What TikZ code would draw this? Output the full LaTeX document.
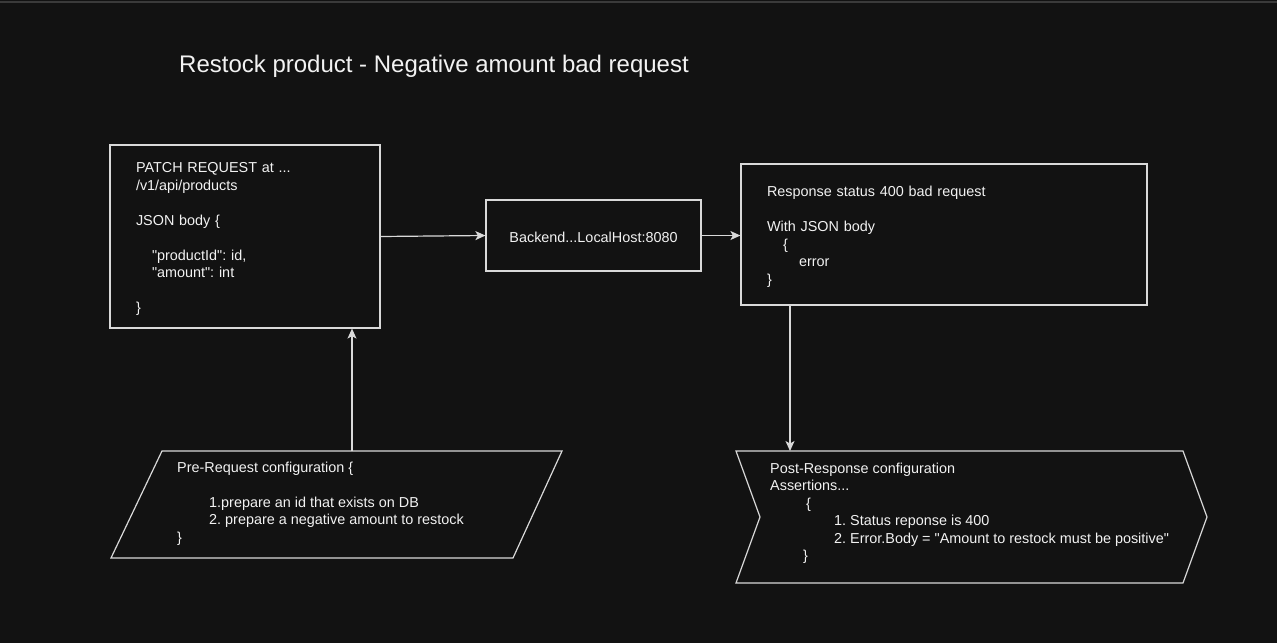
\documentclass[tikz,border=0pt]{standalone}
\usepackage{fontspec}
\setmainfont{Liberation Sans}[Ligatures=TeXOff]
\usetikzlibrary{positioning, arrows.meta}

\definecolor{canvas}{HTML}{121212}
\definecolor{edgegray}{HTML}{D9D9D9}
\definecolor{rulegray}{HTML}{3A3A3A}
\definecolor{inkwhite}{HTML}{F2F2F2}
\newcommand{\linestrut}{\rule[-2.25pt]{0pt}{17.5pt}}

\begin{document}
\frenchspacing
\begin{tikzpicture}[
    x=1pt, y=-1pt,
    every node/.style={text=inkwhite, font=\fontsize{14.4}{17.5}\selectfont,
        execute at begin node=\linestrut, execute at end node=\linestrut},
    box/.style={draw=edgegray, line width=1.2pt, fill=canvas, align=left, inner xsep=26pt, inner ysep=0pt},
    outline/.style={draw=edgegray, line width=1.2pt, fill=canvas, line join=miter},
    arrow/.style={draw=edgegray, line width=1.2pt, -{Stealth[length=10pt,width=9pt,inset=2.5pt]}},
    plain/.style={align=left, inner sep=0pt, anchor=west}
]

\fill[canvas] (0,0) rectangle (1277,643);
\useasboundingbox (0,0) rectangle (1277,643);
\draw[rulegray, line width=1.5pt] (0,2) -- (1277,2);

\node[font=\fontsize{24}{28}\selectfont, inner sep=0pt, anchor=base west] (title) at (179,72.7)
    {Restock product - Negative amount bad request};

\node[box, text width=218pt, minimum height=183pt] (patch) at (245,236.5)
    {PATCH REQUEST at ...\\/v1/api/products\\[17.5pt]JSON body \{\\[17.5pt]\hspace*{16pt}"productId": id,\\\hspace*{16pt}"amount": int\\[17.5pt]\}};

\node[box, align=center, inner xsep=0pt, minimum width=215pt, minimum height=71pt] (backend) at (593.5,235.5)
    {Backend...LocalHost:8080};

\node[box, text width=354pt, minimum height=141pt] (response) at (944,234.5)
    {Response status 400 bad request\\[17.5pt]With JSON body\\\hspace*{16pt}\{\\\hspace*{32pt}error\\\}};

\draw[outline] (111,558) -- (162,451) -- (562,451) -- (513,558) -- cycle;
\coordinate (pre top) at (352,451);
\node[plain] (pre) at (177,503.5)
    {Pre-Request configuration \{\\[17.5pt]\hspace*{32pt}1.prepare an id that exists on DB\\\hspace*{32pt}2. prepare a negative amount to restock\\\}};

\draw[outline] (736,451) -- (1183,451) -- (1207,517) -- (1183,583) -- (736,583) -- (760,517) -- cycle;
\coordinate (post top) at (790,451);
\node[plain] (post) at (770,513.5)
    {Post-Response configuration\\Assertions...\\\hspace*{36pt}\{\\\hspace*{64pt}1. Status reponse is 400\\\hspace*{64pt}2. Error.Body = "Amount to restock must be positive"\\\hspace*{33pt}\}};

\draw[arrow] (patch.east) -- (backend.west);
\draw[arrow] (backend.east) -- (backend.east -| response.west);
\draw[arrow] (response.south -| post top) -- (post top);
\draw[arrow] (pre top) -- (pre top |- patch.south);

\end{tikzpicture}
\end{document}
